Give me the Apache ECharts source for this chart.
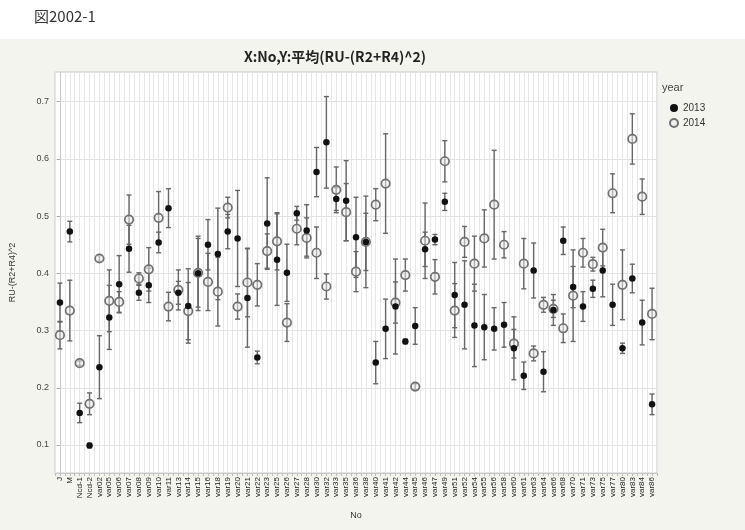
<!DOCTYPE html>
<html>
<head>
<meta charset="utf-8">
<script src="https://cdn.jsdelivr.net/npm/echarts@6/dist/echarts.min.js"></script>
<style>
  html, body { margin: 0; padding: 0; background: #ffffff; }
  #chart { width: 745px; height: 530px; }
</style>
</head>
<body>
<div id="chart"></div>
<script>
// Categories along the x axis (No)
const categories = [
  'J', 'M', 'Ncd-1', 'Ncd-2',
  'var02', 'var05', 'var06', 'var07', 'var08', 'var09', 'var10', 'var11', 'var13', 'var14',
  'var15', 'var16', 'var18', 'var19', 'var20', 'var21', 'var22', 'var23', 'var25', 'var26',
  'var27', 'var28', 'var30', 'var32', 'var33', 'var35', 'var36', 'var38', 'var40', 'var41',
  'var42', 'var44', 'var45', 'var46', 'var47', 'var49', 'var51', 'var52', 'var54', 'var55',
  'var56', 'var58', 'var60', 'var61', 'var63', 'var64', 'var66', 'var68', 'var70', 'var71',
  'var73', 'var75', 'var77', 'var80', 'var83', 'var84', 'var86'
];

// Mean of RU-(R2+R4)^2 per category, year 2013
const mean2013 = [
  0.349, 0.473, 0.156, 0.099, 0.236, 0.323, 0.381, 0.443, 0.366, 0.379,
  0.454, 0.514, 0.366, 0.343, 0.400, 0.450, 0.434, 0.473, 0.461, 0.357,
  0.253, 0.487, 0.424, 0.401, 0.505, 0.475, 0.577, 0.629, 0.530, 0.527,
  0.463, 0.455, 0.244, 0.303, 0.342, 0.281, 0.308, 0.442, 0.459, 0.525,
  0.362, 0.345, 0.309, 0.306, 0.303, 0.310, 0.269, 0.221, 0.405, 0.228,
  0.336, 0.457, 0.376, 0.342, 0.373, 0.405, 0.345, 0.269, 0.391, 0.314, 0.171
];
// Error bar half-widths, year 2013
const err2013 = [
  0.034, 0.018, 0.017, 0.004, 0.055, 0.056, 0.050, 0.041, 0.013, 0.030,
  0.018, 0.034, 0.020, 0.065, 0.065, 0.044, 0.080, 0.030, 0.084, 0.086,
  0.011, 0.080, 0.080, 0.050, 0.012, 0.045, 0.043, 0.080, 0.020, 0.070,
  0.070, 0.080, 0.037, 0.052, 0.083, 0.004, 0.032, 0.030, 0.009, 0.015,
  0.057, 0.077, 0.072, 0.057, 0.037, 0.039, 0.055, 0.024, 0.048, 0.035,
  0.027, 0.024, 0.036, 0.026, 0.015, 0.046, 0.036, 0.009, 0.025, 0.039, 0.018
];

// Mean per category, year 2014
const mean2014 = [
  0.292, 0.335, 0.243, 0.172, 0.426, 0.352, 0.350, 0.494, 0.391, 0.407,
  0.497, 0.342, 0.371, 0.334, 0.401, 0.385, 0.368, 0.515, 0.342, 0.384,
  0.380, 0.439, 0.456, 0.314, 0.478, 0.462, 0.436, 0.377, 0.546, 0.507,
  0.403, 0.455, 0.520, 0.557, 0.349, 0.397, 0.202, 0.457, 0.394, 0.596,
  0.335, 0.455, 0.417, 0.461, 0.520, 0.450, 0.277, 0.417, 0.260, 0.345,
  0.338, 0.304, 0.361, 0.436, 0.416, 0.445, 0.540, 0.380, 0.635, 0.534, 0.329
];
// Error bar half-widths, year 2014
const err2014 = [
  0.024, 0.053, 0.004, 0.019, 0.005, 0.054, 0.018, 0.043, 0.010, 0.038,
  0.046, 0.025, 0.035, 0.050, 0.060, 0.050, 0.060, 0.018, 0.022, 0.060,
  0.037, 0.030, 0.050, 0.033, 0.028, 0.035, 0.045, 0.022, 0.040, 0.050,
  0.035, 0.050, 0.028, 0.087, 0.036, 0.028, 0.005, 0.066, 0.030, 0.036,
  0.047, 0.027, 0.048, 0.050, 0.095, 0.023, 0.025, 0.044, 0.013, 0.013,
  0.015, 0.025, 0.080, 0.025, 0.012, 0.032, 0.034, 0.061, 0.044, 0.031, 0.045
];

// Y axis tick labels
const yTicks = [0.1, 0.2, 0.3, 0.4, 0.5, 0.6, 0.7];

const FONT = '"Liberation Sans", "Noto Sans CJK JP", sans-serif';

function errorData(mean, err) {
  return mean.map((m, i) => [i, m - err[i], m + err[i]]);
}

function renderErrorBar(params, api) {
  const x = api.value(0);
  const lo = api.coord([x, api.value(1)]);
  const hi = api.coord([x, api.value(2)]);
  const cap = 2.5;
  const style = { stroke: '#666666', lineWidth: 1.4, fill: null };
  return {
    type: 'group',
    children: [
      { type: 'line', shape: { x1: hi[0], y1: hi[1], x2: lo[0], y2: lo[1] }, style: style },
      { type: 'line', shape: { x1: hi[0] - cap, y1: hi[1], x2: hi[0] + cap, y2: hi[1] }, style: style },
      { type: 'line', shape: { x1: lo[0] - cap, y1: lo[1], x2: lo[0] + cap, y2: lo[1] }, style: style }
    ]
  };
}

const chart = echarts.init(document.getElementById('chart'), null, { renderer: 'canvas' });

const option = {
  animation: false,
  backgroundColor: '#ffffff',
  textStyle: { fontFamily: FONT },
  graphic: [
    { type: 'rect', z: -10, silent: true, shape: { x: 0, y: 39, width: 745, height: 491 }, style: { fill: '#f4f4ef' } },
    { type: 'text', left: 34, top: 9, style: { text: '図2002-1', font: '15px "Noto Sans CJK JP", sans-serif', fill: '#333' } },
    { type: 'text', left: 662, top: 82, style: { text: 'year', font: '11px ' + FONT, fill: '#444' } }
  ],
  title: {
    text: 'X:No,Y:平均(RU-(R2+R4)^2)',
    left: 330, textAlign: 'center', top: 45,
    textStyle: { fontFamily: '"Noto Sans CJK JP", sans-serif', fontSize: 14, fontWeight: 'bold', color: '#222' }
  },
  legend: {
    orient: 'vertical', left: 664, top: 98, itemGap: 5,
    itemWidth: 8, itemHeight: 8,
    textStyle: { fontSize: 10, color: '#333', fontFamily: FONT },
    data: [
      { name: '2013', icon: 'circle' },
      { name: '2014', icon: 'circle' }
    ]
  },
  grid: {
    left: 54, right: 88, top: 72, bottom: 57,
    show: true, backgroundColor: '#ffffff', borderColor: '#c8c8c8', borderWidth: 1
  },
  xAxis: [
    {
      type: 'category', data: categories, boundaryGap: true,
      name: 'No', nameLocation: 'middle', nameGap: 38,
      nameTextStyle: { fontSize: 9, color: '#333' },
      axisLine: { lineStyle: { color: '#c8c8c8' } },
      axisTick: { show: false },
      splitLine: { show: false },
      axisLabel: { interval: 0, rotate: 90, fontSize: 8, color: '#222', margin: 4 }
    },
    {
      // fine vertical grid (band centres and band edges)
      type: 'value', min: -0.5, max: 60.5, interval: 0.5, position: 'bottom',
      axisLine: { show: false },
      axisLabel: { show: false },
      axisTick: { show: true, inside: false, length: 3, lineStyle: { color: '#bdbdbd' } },
      splitLine: { show: true, lineStyle: { color: '#e6e6e6', width: 1 } }
    }
  ],
  yAxis: {
    type: 'value', min: 0.051, max: 0.752,
    name: 'RU-(R2+R4)^2', nameLocation: 'middle', nameGap: 38,
    nameTextStyle: { fontSize: 9, color: '#333' },
    axisLine: { show: true, lineStyle: { color: '#c8c8c8' } },
    axisTick: { show: true, length: 3, customValues: yTicks, lineStyle: { color: '#aaa' } },
    axisLabel: { customValues: yTicks, fontSize: 9, color: '#444', margin: 6, formatter: v => String(Math.round(v * 10) / 10) },
    splitLine: { show: true, lineStyle: { color: '#e2e2e2' } }
  },
  series: [
    {
      name: 'err2014', type: 'custom', xAxisIndex: 0, renderItem: renderErrorBar,
      data: errorData(mean2014, err2014), z: 2, silent: true
    },
    {
      name: 'err2013', type: 'custom', xAxisIndex: 0, renderItem: renderErrorBar,
      data: errorData(mean2013, err2013), z: 2, silent: true
    },
    {
      name: '2014', type: 'scatter', xAxisIndex: 0, symbol: 'circle', symbolSize: 8.5, z: 3,
      itemStyle: { color: 'rgba(235,235,235,0.55)', borderColor: '#707070', borderWidth: 1.7, opacity: 1 },
      data: mean2014
    },
    {
      name: '2013', type: 'scatter', xAxisIndex: 0, symbol: 'circle', symbolSize: 6.5, z: 4,
      itemStyle: { color: '#111111', opacity: 1 },
      data: mean2013
    }
  ]
};

chart.setOption(option);
</script>
</body>
</html>
